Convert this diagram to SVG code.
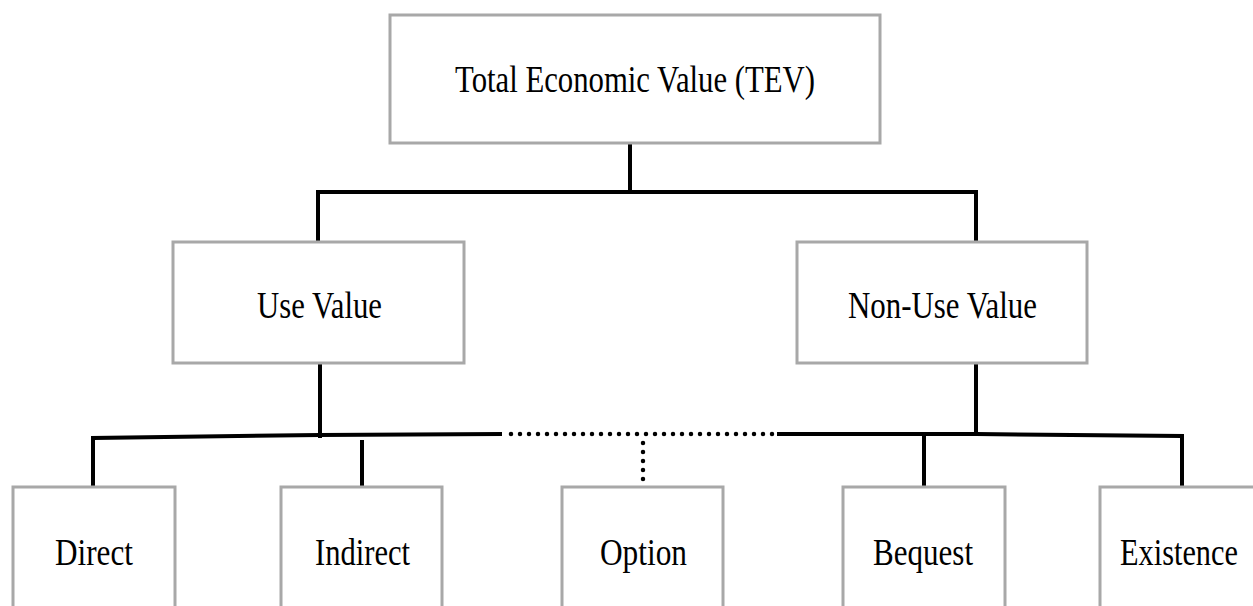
<svg xmlns="http://www.w3.org/2000/svg" width="1253" height="606" viewBox="0 0 1253 606">
<style>
.box{fill:#fff;stroke:#a8a8a8;stroke-width:3}
.lbl{font-family:"Liberation Serif","Times New Roman",serif;font-size:37px;fill:#000;text-anchor:middle}
.ln{stroke:#000;stroke-width:4;fill:none;stroke-linecap:square}
.dot{stroke:#000;stroke-width:4.5;fill:none;stroke-dasharray:0 9;stroke-linecap:round}
</style>
<rect width="1253" height="606" fill="#fff"/>
<g id="connectors">
<line class="ln" x1="630" y1="145" x2="630" y2="192"/>
<line class="ln" x1="318" y1="192" x2="976" y2="192"/>
<line class="ln" x1="318" y1="192" x2="318" y2="241"/>
<line class="ln" x1="976" y1="192" x2="976" y2="241"/>
<line class="ln" x1="320" y1="364" x2="320" y2="436"/>
<line class="ln" x1="976" y1="364" x2="976" y2="434"/>
<polyline class="ln" points="93,486 93,438 320,435 500,434"/>
<polyline class="ln" points="779,434 976,434 1182,436 1182,486"/>
<line class="ln" x1="362" y1="442" x2="362" y2="486"/>
<line class="ln" x1="924" y1="437" x2="924" y2="486"/>
<line class="dot" x1="511" y1="434" x2="775" y2="434"/>
<line class="dot" x1="643" y1="443" x2="643" y2="488"/>
</g>
<g id="tev"><rect class="box" x="390" y="15" width="490" height="128"/><text class="lbl" x="635" y="92" textLength="360" lengthAdjust="spacingAndGlyphs">Total Economic Value (TEV)</text></g>
<g id="use"><rect class="box" x="173" y="242" width="291" height="121"/><text class="lbl" x="319.5" y="318" textLength="125" lengthAdjust="spacingAndGlyphs">Use Value</text></g>
<g id="nonuse"><rect class="box" x="797" y="242" width="290" height="121"/><text class="lbl" x="942.5" y="318" textLength="189" lengthAdjust="spacingAndGlyphs">Non-Use Value</text></g>
<g id="direct"><rect class="box" x="13" y="487" width="162" height="140"/><text class="lbl" x="94" y="565" textLength="78" lengthAdjust="spacingAndGlyphs">Direct</text></g>
<g id="indirect"><rect class="box" x="281" y="487" width="161" height="140"/><text class="lbl" x="362.5" y="565" textLength="95" lengthAdjust="spacingAndGlyphs">Indirect</text></g>
<g id="option"><rect class="box" x="562" y="487" width="161" height="140"/><text class="lbl" x="643.5" y="565" textLength="87" lengthAdjust="spacingAndGlyphs">Option</text></g>
<g id="bequest"><rect class="box" x="843" y="487" width="162" height="140"/><text class="lbl" x="923" y="565" textLength="100" lengthAdjust="spacingAndGlyphs">Bequest</text></g>
<g id="existence"><rect class="box" x="1100" y="487" width="180" height="140"/><text class="lbl" x="1179" y="565" textLength="118" lengthAdjust="spacingAndGlyphs">Existence</text></g>
</svg>
